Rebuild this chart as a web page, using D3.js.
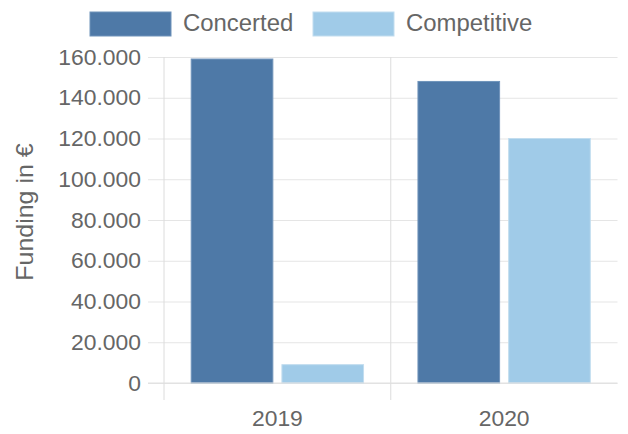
<!DOCTYPE html>
<html>
<head>
<meta charset="utf-8">
<script src="https://cdn.jsdelivr.net/npm/d3@7"></script>
<style>
  html, body { margin: 0; padding: 0; background: #fff; }
  svg text { font-family: "Liberation Sans", Arial, sans-serif; fill: #666; }
</style>
</head>
<body>
<svg id="chart" width="628" height="434"></svg>
<script>
const categories = ["2019", "2020"];
const seriesNames = ["Concerted", "Competitive"];
const concerted = [159000, 148000];
const competitive = [9000, 120000];
const yTicks = [0, 20000, 40000, 60000, 80000, 100000, 120000, 140000, 160000];
const yTickLabels = ["0", "20.000", "40.000", "60.000", "80.000", "100.000", "120.000", "140.000", "160.000"];
const colors = ["#4e79a7", "#a0cbe8"];
const borderColors = ["#6f93ba", "#c2ddef"];

(function () {
const svg = d3.select("#chart");
const pLeft = 164, pRight = 617.5, pTop = 57, pBottom = 383;
const sx = 1.04;

const x0 = d3.scaleBand().domain(categories).range([pLeft, pRight]).paddingInner(0).paddingOuter(0);
const x1 = d3.scaleBand().domain(seriesNames).range([0, x0.bandwidth() * 0.8]).paddingInner(0.1).paddingOuter(0.05);
const y = d3.scaleLinear().domain([0, 160000]).range([pBottom, pTop]);

// horizontal gridlines with tick marks
const yAxis = d3.axisLeft(y).tickValues(yTicks).tickSize(-(pRight - pLeft)).tickFormat("");
const gy = svg.append("g").attr("transform", `translate(${pLeft},0)`).call(yAxis);
gy.select(".domain").remove();
gy.selectAll(".tick line").attr("stroke", "#e5e5e5").attr("stroke-width", 1).attr("x1", -16);
// y labels
svg.append("g").selectAll("text").data(yTicks).join("text")
  .attr("transform", d => `translate(141,${y(d)}) scale(${sx},1)`).attr("dy", "0.35em")
  .attr("text-anchor", "end").style("font-size", "22px")
  .text((d, i) => yTickLabels[i]);

// vertical gridlines at category boundaries
const vBounds = [pLeft, x0("2020")];
svg.append("g").selectAll("line").data(vBounds).join("line")
  .attr("x1", d => d).attr("x2", d => d).attr("y1", pTop).attr("y2", 400)
  .attr("stroke", "#dcdcdc").attr("stroke-width", 1);

// bars
const data = categories.map((c, i) => ({cat: c, vals: [concerted[i], competitive[i]]}));
const g = svg.append("g");
data.forEach(d => {
  const gx = x0(d.cat) + x0.bandwidth() * 0.1;
  g.selectAll(null).data(d.vals).join("rect")
    .attr("x", (v, j) => gx + x1(seriesNames[j]))
    .attr("y", v => y(v))
    .attr("width", x1.bandwidth())
    .attr("height", v => y(0) - y(v))
    .attr("fill", (v, j) => colors[j])
    .attr("stroke", (v, j) => borderColors[j])
    .attr("stroke-width", 1);
});

// zero line on top
svg.append("line").attr("x1", pLeft - 16).attr("x2", pRight).attr("y1", y(0)).attr("y2", y(0))
  .attr("stroke", "#e0e0e0").attr("stroke-width", 1);

// x labels
svg.append("g").selectAll("text").data(categories).join("text")
  .attr("transform", d => `translate(${x0(d) + x0.bandwidth() / 2},418) scale(${sx},1)`).attr("dy", "0.35em")
  .attr("text-anchor", "middle").style("font-size", "22px").text(d => d);

// y title
svg.append("text").attr("transform", `translate(25,212) rotate(-90) scale(${sx},1)`)
  .attr("dy", "0.35em").attr("text-anchor", "middle").style("font-size", "24px")
  .text("Funding in €");

// legend
const legendX = [90, 313];
const lg = svg.append("g");
seriesNames.forEach((s, i) => {
  lg.append("rect").attr("x", legendX[i]).attr("y", 12).attr("width", 81).attr("height", 24)
    .attr("fill", colors[i]).attr("stroke", borderColors[i]).attr("stroke-width", 1);
  lg.append("text").attr("transform", `translate(${legendX[i] + 93},23) scale(${sx},1)`).attr("dy", "0.35em")
    .style("font-size", "23px").text(s);
});
})();
</script>
</body>
</html>
